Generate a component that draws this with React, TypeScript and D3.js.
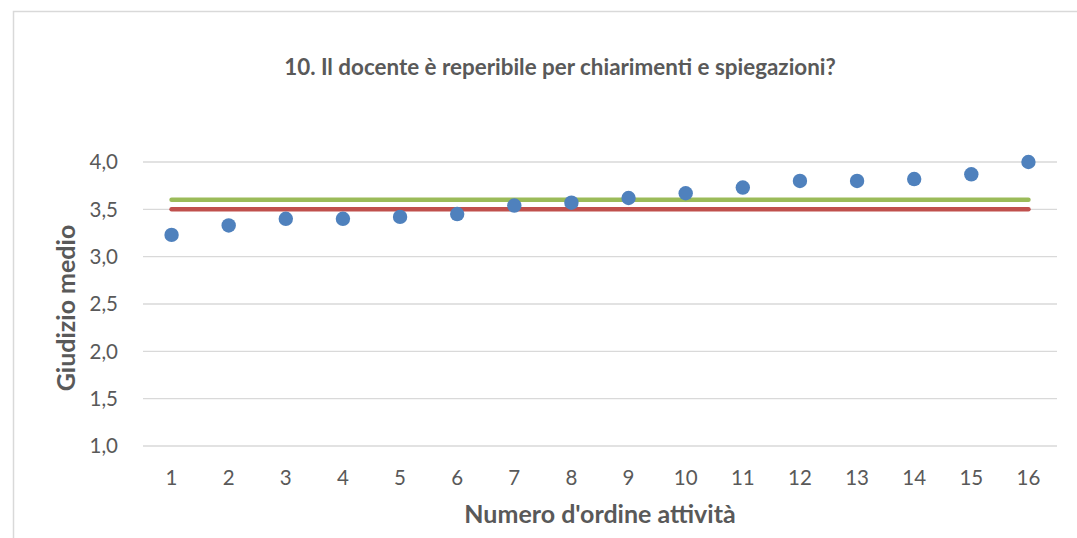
import React from "react";
import * as d3 from "d3";

const categories = ["1","2","3","4","5","6","7","8","9","10","11","12","13","14","15","16"];
const giudizio = [3.23,3.33,3.40,3.40,3.42,3.45,3.54,3.57,3.62,3.67,3.73,3.80,3.80,3.82,3.87,4.00];
const mediaVerde = [3.6,3.6,3.6,3.6,3.6,3.6,3.6,3.6,3.6,3.6,3.6,3.6,3.6,3.6,3.6,3.6];
const mediaRossa = [3.5,3.5,3.5,3.5,3.5,3.5,3.5,3.5,3.5,3.5,3.5,3.5,3.5,3.5,3.5,3.5];
const yTicks = [1.0,1.5,2.0,2.5,3.0,3.5,4.0];
const title = "10. Il docente è reperibile per chiarimenti e spiegazioni?";
const xTitle = "Numero d'ordine attività";
const yTitle = "Giudizio medio";

const W = 1077, H = 538;
const FONT = "Lato, 'Open Sans', sans-serif";

export default function App() {
  const x = d3.scaleBand<string>().domain(categories).range([143, 1057]);
  const y = d3.scaleLinear().domain([1, 4]).range([446, 162]);
  const cx = (c: string) => (x(c) as number) + x.bandwidth() / 2;
  const line = d3.line<number>().x((_, i) => cx(categories[i])).y((v) => y(v));
  const fmt = (v: number) => v.toFixed(1).replace(".", ",");
  return (
    <svg width={W} height={H} style={{ position: "absolute", left: 0, top: 0, background: "#fff" }} fontFamily={FONT}>
      <rect x={13.5} y={11.5} width={W + 20} height={H + 20} fill="#fff" stroke="#d9d9d9" strokeWidth={1.5} />
      <text x={560} y={75} textAnchor="middle" fontSize={22.4} fontWeight="bold" fill="#595959">{title}</text>
      {yTicks.map((t) => (
        <g key={t}>
          <line x1={143} x2={1057} y1={y(t)} y2={y(t)} stroke="#d9d9d9" strokeWidth={1.3} />
          <text x={118} y={y(t) + 7.4} textAnchor="end" fontSize={20.5} fill="#595959">{fmt(t)}</text>
        </g>
      ))}
      {categories.map((c) => (
        <text key={c} x={cx(c)} y={485} textAnchor="middle" fontSize={20.5} fill="#595959">{c}</text>
      ))}
      <path d={line(mediaRossa) || ""} fill="none" stroke="#C0504D" strokeWidth={4.5} strokeLinecap="round" />
      <path d={line(mediaVerde) || ""} fill="none" stroke="#9BBB59" strokeWidth={4.5} strokeLinecap="round" />
      {giudizio.map((v, i) => (
        <circle key={i} cx={cx(categories[i])} cy={y(v)} r={7.2} fill="#4F81BD" />
      ))}
      <text x={600} y={523} textAnchor="middle" fontSize={25} fontWeight="bold" fill="#595959">{xTitle}</text>
      <text transform={`translate(75,308) rotate(-90)`} textAnchor="middle" fontSize={25} fontWeight="bold" fill="#595959">{yTitle}</text>
    </svg>
  );
}
